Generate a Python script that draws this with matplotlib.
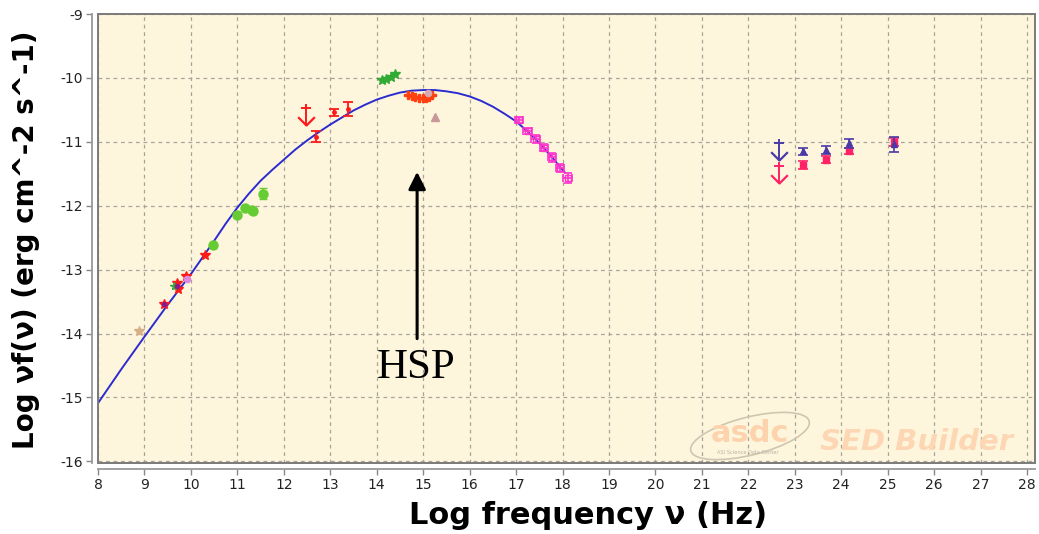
import matplotlib

matplotlib.use("Agg")

import matplotlib.pyplot as plt
from matplotlib.patches import Ellipse, Rectangle
from matplotlib.path import Path
from matplotlib.transforms import IdentityTransform

plt.rcParams["axes.unicode_minus"] = False

# log-parabola model curve
model_x = [8.0, 8.5, 9.0, 9.5, 10.0, 10.5, 10.75, 11.0, 11.25, 11.5, 11.75,
           12.0, 12.25, 12.5, 12.75, 13.0, 13.25, 13.5, 13.75, 14.0, 14.25,
           14.5, 14.75, 15.0, 15.25, 15.5, 15.75, 16.0, 16.25, 16.5, 16.75,
           17.0, 17.25, 17.5, 17.75, 18.0, 18.05]
model_y = [-15.09, -14.56, -14.05, -13.55, -13.07, -12.55, -12.28, -12.03,
           -11.81, -11.61, -11.44, -11.28, -11.12, -10.98, -10.85, -10.73,
           -10.62, -10.51, -10.42, -10.34, -10.28, -10.23, -10.20, -10.19,
           -10.19, -10.21, -10.24, -10.29, -10.36, -10.45, -10.56, -10.68,
           -10.84, -11.02, -11.22, -11.44, -11.48]

# radio
radio_x = [9.42, 9.69, 9.73, 9.89, 10.30]
radio_y = [-13.54, -13.21, -13.31, -13.10, -12.77]
radio2_x = [9.42, 9.71]
radio2_y = [-13.54, -13.26]
tan_x = [8.89]
tan_y = [-13.96]
violet_x = [9.91]
violet_y = [-13.14]
green_small_x = [9.64]
green_small_y = [-13.25]

# mm / submm
green_x = [10.48, 11.00, 11.16, 11.31, 11.34]
green_y = [-12.61, -12.15, -12.03, -12.07, -12.08]
green_err_x = [11.56]
green_err_y = [-11.81]
green_err = [0.08]

# far infrared
red_x = [12.69, 13.07, 13.39]
red_y = [-10.92, -10.54, -10.48]
red_err = [0.086, 0.06, 0.11]
red_ul_x = [12.48]
red_ul_y = [-10.47]

# WISE
wise_x = [14.11, 14.21, 14.30, 14.39]
wise_y = [-10.04, -10.02, -9.98, -9.94]

# optical / UV
opt_x = [14.67, 14.75, 14.83, 14.91, 14.99, 15.07, 15.13, 15.19]
opt_y = [-10.27, -10.29, -10.30, -10.31, -10.31, -10.32, -10.30, -10.27]
uv_x = [15.11]
uv_y = [-10.24]
galex_x = [15.26]
galex_y = [-10.61]

# X-ray
xray_x = [17.07, 17.25, 17.42, 17.60, 17.77, 17.95, 18.11]
xray_y = [-10.66, -10.83, -10.96, -11.09, -11.24, -11.41, -11.57]
xray_xerr = [0.09, 0.09, 0.09, 0.09, 0.09, 0.09, 0.09]
xray_yerr = [0.05, 0.05, 0.06, 0.06, 0.07, 0.07, 0.08]

# gamma-ray (two catalogues)
fermi_a_x = [23.17, 23.67, 24.17, 25.14]
fermi_a_y = [-11.15, -11.13, -11.02, -11.04]
fermi_a_err = [0.06, 0.06, 0.07, 0.12]
fermi_a_ul_x = [22.67]
fermi_a_ul_y = [-11.02]
fermi_b_x = [23.17, 23.67, 24.17, 25.14]
fermi_b_y = [-11.36, -11.28, -11.14, -11.00]
fermi_b_err = [0.06, 0.05, 0.05, 0.06]
fermi_b_ul_x = [22.67]
fermi_b_ul_y = [-11.38]

x_ticks = list(range(8, 29))
y_ticks = list(range(-16, -8))

fig = plt.figure(figsize=(10.39, 5.34), dpi=100)
ax = fig.add_axes([98 / 1039, 1 - 463 / 534, (1035 - 98) / 1039, (463 - 14) / 534])
ax.set_facecolor("#fef6dc")
ax.set_xlim(8, 8 + (1035 - 98) / 46.45)
ax.set_ylim(-9 - (463 - 14) / 63.9, -9)

ax.set_xticks(x_ticks)
ax.set_yticks(y_ticks)
ax.tick_params(labelsize=10, colors="#222222", length=4, width=1, pad=3)
ax.tick_params(axis="both", color="#888888")
ax.grid(True, color="#a8a49a", linestyle=(0, (3, 3)), linewidth=0.9)
ax.set_axisbelow(True)

for side in ("top", "right"):
    ax.spines[side].set_visible(False)
for side in ("left", "bottom"):
    ax.spines[side].set_position(("outward", 4))
    ax.spines[side].set_color("#999999")
    ax.spines[side].set_linewidth(1.3)
ax.add_patch(Rectangle((0, 0), 1, 1, transform=ax.transAxes, fill=False,
                       edgecolor="#7a7a7a", linewidth=1.4, clip_on=False, zorder=10))

# watermark
fig.add_artist(Ellipse((750, 534 - 436), 122, 38, angle=14, fill=False,
                       edgecolor="#cfc6b2", linewidth=1.2, transform=IdentityTransform()))
fig.text(750 / 1039, 1 - 434 / 534, "asdc", fontsize=22, fontweight="bold",
         color="#fdd3ad", ha="center", va="center")
fig.text(748 / 1039, 1 - 453 / 534, "ASI Science Data Center", fontsize=3.6,
         color="#b8b0a0", ha="center", va="center")
fig.text(917 / 1039, 1 - 442 / 534, "SED Builder", fontsize=21, fontweight="bold",
         fontstyle="italic", color="#fdd6b4", ha="center", va="center")

ax.plot(model_x, model_y, color="#2b2bd0", linewidth=1.4, zorder=3)

ax.plot(tan_x, tan_y, "*", color="#d8b088", ms=7, zorder=4)
ax.plot(radio_x, radio_y, "*", color="#ff1a1a", ms=7.5, zorder=4)
ax.plot(radio2_x, radio2_y, "o", color="#8a1a8a", ms=3, zorder=5)
ax.plot(green_small_x, green_small_y, "*", color="#33aa33", ms=5.5, zorder=4)
ax.plot(violet_x, violet_y, "o", color="#e088e0", ms=4.5, zorder=5)

ax.plot(green_x, green_y, "o", color="#66cc33", ms=6.5, zorder=4)
ax.errorbar(green_err_x, green_err_y, yerr=green_err, fmt="o", color="#66cc33",
            ms=6.5, capsize=3, zorder=4)

ax.errorbar(red_x, red_y, yerr=red_err, fmt="o", color="#ff1a1a", ms=2.5,
            capsize=3.5, elinewidth=1.3, capthick=1.3, zorder=4)

ax.plot(wise_x, wise_y, "*", color="#33aa33", ms=7, zorder=4)

ax.plot(opt_x, opt_y, "P", color="#ff4010", ms=5.5, zorder=4)
ax.plot(uv_x, uv_y, "o", color="#d8a8b0", ms=4.5, zorder=5)
ax.plot(galex_x, galex_y, "^", color="#c89898", ms=5.5, zorder=4)

ax.errorbar(xray_x, xray_y, xerr=xray_xerr, yerr=xray_yerr, fmt="s",
            mfc="none", color="#ff33cc", ms=5, capsize=3, elinewidth=1.2,
            capthick=1.2, zorder=4)

ax.errorbar(fermi_b_x, fermi_b_y, yerr=fermi_b_err, fmt="s", color="#ff2266",
            ms=4, capsize=3.5, elinewidth=1.2, capthick=1.2, zorder=4)
ax.errorbar(fermi_a_x, fermi_a_y, yerr=fermi_a_err, fmt="^", color="#4a3aa8",
            ms=4.5, capsize=3.5, elinewidth=1.2, capthick=1.2, zorder=5)

# upper limits: bar at the value, stem down to an open arrowhead
arrow_head = Path([(-1, 1), (0, 0), (1, 1)], [Path.MOVETO, Path.LINETO, Path.LINETO])
for ux, uy, col in [(red_ul_x, red_ul_y, "#ff1a1a"),
                    (fermi_a_ul_x, fermi_a_ul_y, "#4a3aa8"),
                    (fermi_b_ul_x, fermi_b_ul_y, "#ff2266")]:
    for x0, y0 in zip(ux, uy):
        ax.plot([x0, x0], [y0 + 0.05, y0 - 0.26], color=col, lw=1.4, zorder=4)
        ax.plot(x0, y0, marker="_", color=col, ms=7, mew=1.4, zorder=4)
        ax.plot(x0, y0 - 0.26, marker=arrow_head, color=col, ms=12, mew=1.6,
                mfc="none", zorder=4)

ax.annotate("", xy=(14.87, -11.47), xytext=(14.87, -14.08),
            arrowprops=dict(arrowstyle="-|>", color="black", lw=2.2,
                            mutation_scale=26, shrinkA=0, shrinkB=0), zorder=6)
ax.text(14.84, -14.70, "HSP", fontsize=31, family="Liberation Serif",
        ha="center", va="baseline", zorder=6)

ax.set_xlabel("Log frequency \u03bd (Hz)", fontsize=22, fontweight="bold")
ax.set_ylabel("Log \u03bdf(\u03bd) (erg cm^-2 s^-1)", fontsize=20, fontweight="bold")
ax.xaxis.set_label_coords((588 - 98) / (1035 - 98), -(501 - 463) / (463 - 14))
ax.yaxis.set_label_coords(-(98 - 40) / (1035 - 98), (463 - 240) / (463 - 14))

fig.savefig("out.png", dpi=100, facecolor="white")
